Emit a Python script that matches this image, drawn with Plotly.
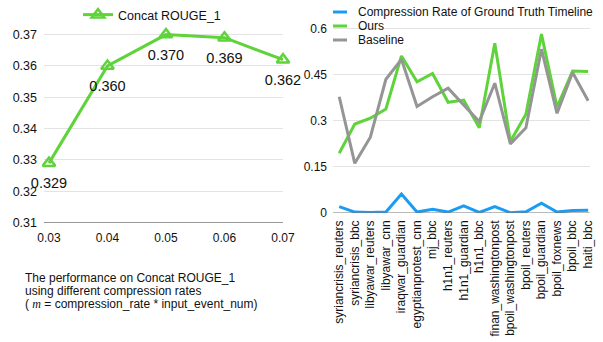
import plotly.graph_objects as go

# Left chart data
rates = [0.03, 0.04, 0.05, 0.06, 0.07]
rate_labels = ["0.03", "0.04", "0.05", "0.06", "0.07"]
rouge1 = [0.329, 0.360, 0.370, 0.369, 0.362]
rouge1_labels = ["0.329", "0.360", "0.370", "0.369", "0.362"]
left_yticks = [0.31, 0.32, 0.33, 0.34, 0.35, 0.36, 0.37]
left_yticklabels = ["0.31", "0.32", "0.33", "0.34", "0.35", "0.36", "0.37"]

# Right chart data
datasets = ["syriancrisis_reuters", "syriancrisis_bbc", "libyawar_reuters", "libyawar_cnn",
            "iraqwar_guardian", "egyptianprotest_cnn", "mj_bbc", "h1n1_reuters",
            "h1n1_guardian", "h1n1_bbc", "finan_washingtonpost", "bpoil_washingtonpost",
            "bpoil_reuters", "bpoil_guardian", "bpoil_foxnews", "bpoil_bbc", "haiti_bbc"]
compression = [0.021, 0.003, 0.002, 0.003, 0.062, 0.003, 0.012, 0.003, 0.023, 0.002,
               0.021, 0.001, 0.004, 0.032, 0.003, 0.008, 0.009]
ours = [0.195, 0.290, 0.309, 0.339, 0.512, 0.428, 0.455, 0.361, 0.368, 0.278,
        0.553, 0.233, 0.322, 0.583, 0.345, 0.463, 0.461]
baseline = [0.379, 0.162, 0.247, 0.436, 0.501, 0.347, 0.379, 0.407, 0.352, 0.298,
            0.423, 0.225, 0.278, 0.534, 0.325, 0.458, 0.366]
right_yticks = [0, 0.15, 0.3, 0.45, 0.6]
right_yticklabels = ["0", "0.15", "0.3", "0.45", "0.6"]
series_names = ["Compression Rate of Ground Truth Timeline", "Ours", "Baseline"]

caption_lines = [
    "The performance on Concat ROUGE_1",
    "using different compression rates",
    "( <span style='font-family:Liberation Serif'><i>m</i></span> = compression_rate * input_event_num)",
]

GREEN = "#5fd33a"
BLUE = "#1a9cf5"
GRAY = "#959595"
FONT = "Liberation Sans, Arial, sans-serif"
W, H = 603, 342

fig = go.Figure()

fig.add_trace(go.Scatter(
    x=rates, y=rouge1, mode="lines+markers", name="Concat ROUGE_1",
    line=dict(color=GREEN, width=3),
    marker=dict(symbol="triangle-up-open", size=11, color=GREEN, line=dict(width=2.5, color=GREEN)),
    cliponaxis=False, xaxis="x", yaxis="y", legend="legend2",
))
# value labels (transparent larger markers only used to offset the text)
fig.add_trace(go.Scatter(
    x=rates, y=rouge1, mode="markers+text", showlegend=False, hoverinfo="skip",
    marker=dict(size=21, color="rgba(0,0,0,0)"),
    text=rouge1_labels, textposition="bottom center",
    textfont=dict(size=14.5, color="#111", family=FONT),
    cliponaxis=False, xaxis="x", yaxis="y",
))

colors = [BLUE, GREEN, GRAY]
for name, vals, col in zip(series_names, [compression, ours, baseline], colors):
    fig.add_trace(go.Scatter(
        x=datasets, y=vals, mode="lines", name=name, showlegend=False,
        line=dict(color=col, width=3), xaxis="x2", yaxis="y2",
    ))

# axis base lines
shapes = [
    dict(type="line", xref="x domain", yref="y", x0=0, x1=1, y0=0.31, y1=0.31,
         line=dict(color="#777", width=1.2)),
    dict(type="line", xref="x2 domain", yref="y2", x0=0, x1=1, y0=0, y1=0,
         line=dict(color="#777", width=1.2)),
]
# custom legend for the right chart
annotations = []
for i, (name, col) in enumerate(zip(series_names, colors)):
    yc = 12 + i * 14
    shapes.append(dict(type="line", xref="paper", yref="paper",
                       x0=333 / W, x1=347 / W, y0=1 - yc / H, y1=1 - yc / H,
                       line=dict(color=col, width=3)))
    annotations.append(dict(xref="paper", yref="paper", x=356 / W, y=1 - yc / H,
                            xanchor="left", yanchor="middle", showarrow=False,
                            text=name, font=dict(size=12, color="#111", family=FONT)))

for i, line in enumerate(caption_lines):
    yc = 277.5 + i * 13
    annotations.append(dict(xref="paper", yref="paper", x=23 / W, y=1 - yc / H,
                            xanchor="left", yanchor="middle", showarrow=False, align="left",
                            text=line, font=dict(size=12, color="#111", family=FONT)))

fig.update_layout(
    width=W, height=H,
    margin=dict(l=0, r=0, t=0, b=0, autoexpand=False),
    paper_bgcolor="white", plot_bgcolor="white",
    font=dict(family=FONT, color="#111", size=12),
    xaxis=dict(domain=[44 / W, 283 / W], range=[0.02915, 0.07], tickvals=rates,
               ticktext=rate_labels, showgrid=False, zeroline=False, showline=False,
               ticks="", tickfont=dict(size=12), anchor="y", ticklabelstandoff=6,
               automargin=False),
    yaxis=dict(domain=[1 - 222.7 / H, 1 - 28.3 / H], range=[0.31, 0.372],
               tickvals=left_yticks, ticktext=left_yticklabels,
               showgrid=True, gridcolor="#e3e3e3", gridwidth=1, zeroline=False,
               showline=False, ticks="", tickfont=dict(size=12.5), anchor="x",
               ticklabelstandoff=6, automargin=False),
    xaxis2=dict(domain=[333 / W, 589.7 / W], range=[-0.4, 16.1], type="category",
                tickangle=-90, showgrid=False, zeroline=False, showline=False, ticks="",
                tickfont=dict(size=12), anchor="y2", ticklabelstandoff=4, automargin=False),
    yaxis2=dict(domain=[1 - 213 / H, 1 - 22.8 / H], range=[0, 0.62],
                tickvals=right_yticks, ticktext=right_yticklabels,
                showgrid=True, gridcolor="#e3e3e3", gridwidth=1, zeroline=False,
                showline=False, ticks="", tickfont=dict(size=12), anchor="x2",
                ticklabelstandoff=5, automargin=False),
    legend2=dict(x=78 / W, y=1.0, xanchor="left", yanchor="top", bgcolor="rgba(0,0,0,0)",
                 font=dict(size=12.5), itemwidth=30),
    shapes=shapes,
    annotations=annotations,
)

fig.write_html("out.html", config={"displayModeBar": False},
               post_script="document.body.style.margin='0';")
